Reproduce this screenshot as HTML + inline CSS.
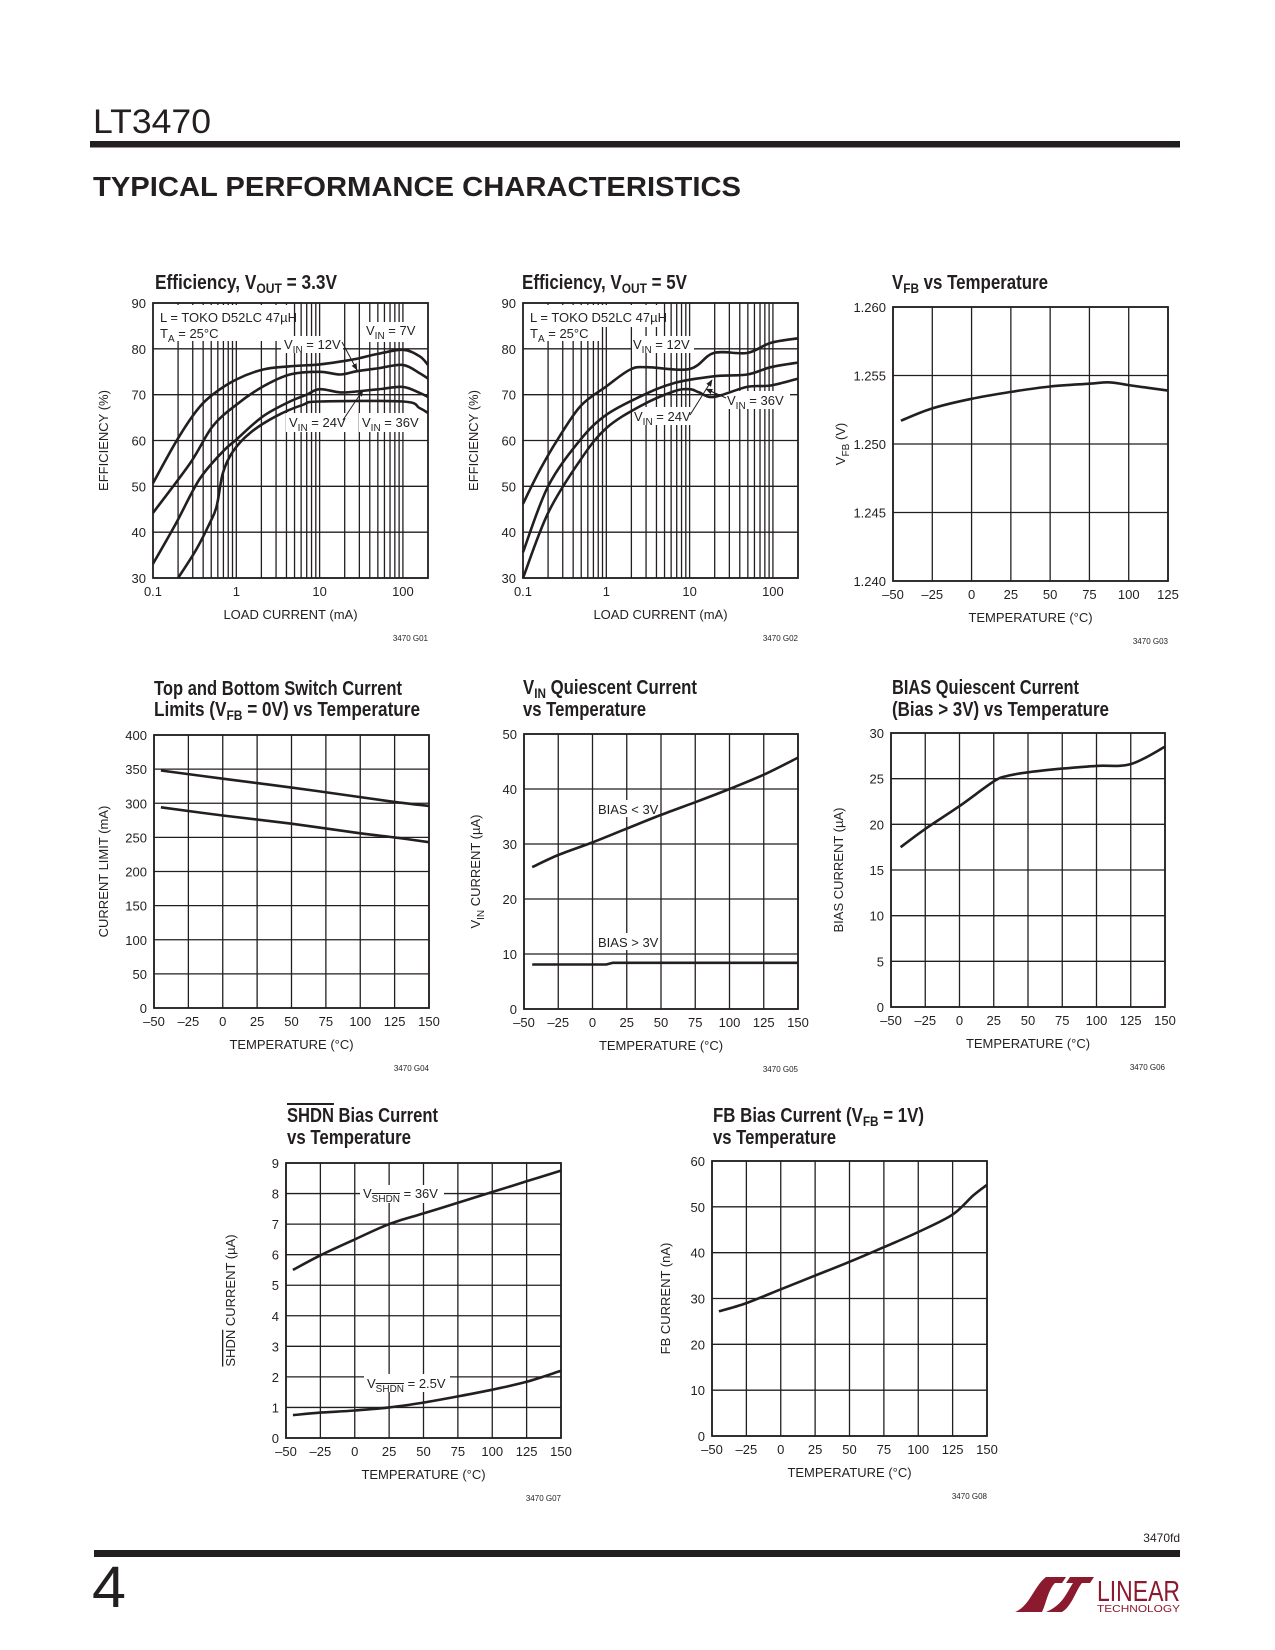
<!DOCTYPE html>
<html><head><meta charset="utf-8"><title>LT3470 Typical Performance Characteristics</title>
<style>
html,body{margin:0;padding:0;background:#fff;}
svg{display:block;}
text{font-family:"Liberation Sans",sans-serif;fill:#231f20;}
.t{font-family:"Liberation Sans Narrow","Liberation Sans",sans-serif;font-weight:bold;font-size:20px;}
.tk{font-size:13px;}
.ax{font-size:13px;}
.lb{font-size:13px;}
.code{font-size:8px;}
</style></head>
<body>
<svg id="page" width="1275" height="1650" viewBox="0 0 1275 1650" xmlns="http://www.w3.org/2000/svg">
<defs>
<marker id="arr" viewBox="0 0 10 10" refX="9" refY="5" markerWidth="7" markerHeight="7" orient="auto"><path d="M0,1 L10,5 L0,9 z" fill="#231f20"/></marker>
</defs>
<text x="93" y="133" font-size="34" textLength="118" lengthAdjust="spacingAndGlyphs">LT3470</text>
<rect x="90" y="141" width="1090" height="6.5" fill="#231f20"/>
<text x="93" y="196" font-size="28" font-weight="bold" textLength="648" lengthAdjust="spacingAndGlyphs" style="font-family:'Liberation Sans',sans-serif;font-weight:900">TYPICAL PERFORMANCE CHARACTERISTICS</text>
<g id="charts"></g>
<text x="1180" y="1542" font-size="12" text-anchor="end" style="font-family:'Liberation Sans Narrow','Liberation Sans',sans-serif">3470fd</text>
<rect x="94" y="1550" width="1086" height="7" fill="#231f20"/>
<text x="92" y="1607" font-size="58" textLength="34" lengthAdjust="spacingAndGlyphs">4</text>
<g fill="#8b1a2e">
<path d="M1015,1612 C1030,1606 1034,1586 1046,1577 L1066,1577 L1062,1583 L1055,1583 C1048,1590 1046,1604 1042,1612 Z"/>
<path d="M1046,1612 L1062,1612 C1072,1606 1076,1590 1082,1583 L1090,1583 L1094,1577 L1070,1577 L1066,1583 L1073,1583 C1067,1592 1063,1605 1046,1612 Z"/>
<text x="1097" y="1601" font-size="29" fill="#8b1a2e" textLength="83" lengthAdjust="spacingAndGlyphs" style="font-family:'Liberation Sans Narrow','Liberation Sans',sans-serif;fill:#8b1a2e">LINEAR</text>
<text x="1097" y="1612" font-size="10" fill="#8b1a2e" textLength="83" lengthAdjust="spacingAndGlyphs" style="fill:#8b1a2e">TECHNOLOGY</text>
</g>
</svg>
<script>
// ---------- data ----------
const effTicksX = [0.1, 1, 10, 100];
const effTickLabelsX = ["0.1", "1", "10", "100"];
const effTicksY = [30, 40, 50, 60, 70, 80, 90];

const eff33Load7 = [0.1,0.19,0.33,0.52,1,2.1,4.4,10,19,27.5,50,100,158,200];
const eff33Vin7  = [50.7,59.8,66.4,70,73.3,75.5,76.2,76.6,77.3,77.8,78.9,79.8,78.4,76.5];
const eff33Load12 = [0.1,0.28,0.52,1,2.1,4.4,10,17.6,27.5,52,100,158,200];
const eff33Vin12  = [44.2,55.1,63.1,67.8,71.8,74.4,75,74.4,75.1,75.8,76.5,74.7,73.5];
const eff33Load24 = [0.1,0.19,0.36,0.69,1,2.1,4.4,7,10,17.6,27.5,52,100,158,200];
const eff33Vin24  = [33.1,42,51.5,57.6,60.2,65.3,68.5,70,71.2,70.5,70.7,71.2,71.7,70.4,69.5];
const eff33Load36 = [0.2,0.33,0.48,0.58,0.69,0.91,1.45,3,6.3,10,100,158,200];
const eff33Vin36  = [30,36.2,42,45.6,52.9,57.6,61.6,65.3,67.8,68.5,68.5,67.1,66];

const eff5Load12 = [0.1,0.16,0.26,0.49,1,1.94,3.1,10,19.5,49,94,200];
const eff5Vin12  = [46.2,53.6,60.2,67.5,71.8,75.5,76,75.6,79.1,79.1,81.3,82.3];
const eff5Load24 = [0.1,0.2,0.49,1,2.56,6.4,19.5,49,94,200];
const eff5Vin24  = [35.6,50,60.2,65.6,69.6,72.5,74,74.4,76,77];
const eff5Load36 = [0.1,0.2,0.49,1,2.56,6.4,10,13,19.5,49,94,200];
const eff5Vin36  = [30,44.2,55.8,62.7,67.5,70.7,71.2,70.5,69.5,71.7,72,73.5];

const vfbTemp = [-45,-25,0,25,50,75,88,100,125];
const vfbVolts = [1.2517,1.2526,1.2533,1.2538,1.2542,1.2544,1.2545,1.2543,1.2539];
const vfbTicksY = [1.240,1.245,1.250,1.255,1.260];
const vfbTickLabelsY = ["1.240","1.245","1.250","1.255","1.260"];

const tempTicks = [-50,-25,0,25,50,75,100,125,150];
const tempTicks125 = [-50,-25,0,25,50,75,100,125];

const limTemp = [-45,0,50,100,125,150];
const limTop = [348,336,323,309,302,296];
const limBottom = [294,282,270,256,250,243];
const limTicksY = [0,50,100,150,200,250,300,350,400];

const vinqTemp = [-44,-25,0,25,50,75,100,125,150];
const vinqBiasLow = [25.8,28,30.3,32.8,35.3,37.6,40,42.6,45.7];
const vinqTempHigh = [-44,10,15,150];
const vinqBiasHigh = [8.1,8.1,8.4,8.4];
const vinqTicksY = [0,10,20,30,40,50];

const biasTemp = [-43,-25,0,25,35,50,75,100,125,150];
const biasCurrent = [17.5,19.5,22,24.7,25.3,25.7,26.1,26.4,26.6,28.5];
const biasTicksY = [0,5,10,15,20,25,30];

const shdnTemp = [-45,-25,0,25,50,75,100,125,150];
const shdn36 = [5.5,5.98,6.5,7.0,7.35,7.7,8.05,8.4,8.75];
const shdn25 = [0.75,0.83,0.9,1.0,1.16,1.36,1.58,1.84,2.2];
const shdnTicksY = [0,1,2,3,4,5,6,7,8,9];

const fbTemp = [-45,-25,0,25,50,75,100,125,140,150];
const fbCurrent = [27.2,29,32,35,38,41.2,44.5,48.3,52.5,54.8];
const fbTicksY = [0,10,20,30,40,50,60];

// ---------- helpers ----------
const NS = 'http://www.w3.org/2000/svg';
const root = document.getElementById('charts');
function mk(tag, attrs, parent) {
  const e = document.createElementNS(NS, tag);
  for (const k in attrs) e.setAttribute(k, attrs[k]);
  (parent || root).appendChild(e);
  return e;
}
function lin(d0, d1, r0, r1) { return v => r0 + (v - d0) * (r1 - r0) / (d1 - d0); }
function logs(d0, d1, r0, r1) { const a = Math.log10(d0), b = Math.log10(d1); return v => r0 + (Math.log10(v) - a) * (r1 - r0) / (b - a); }
function smooth(pts) {
  let d = 'M' + pts[0][0].toFixed(1) + ',' + pts[0][1].toFixed(1);
  for (let i = 0; i < pts.length - 1; i++) {
    const p0 = pts[i - 1] || pts[i], p1 = pts[i], p2 = pts[i + 1], p3 = pts[i + 2] || p2;
    const c1 = [p1[0] + (p2[0] - p0[0]) / 6, p1[1] + (p2[1] - p0[1]) / 6];
    const c2 = [p2[0] - (p3[0] - p1[0]) / 6, p2[1] - (p3[1] - p1[1]) / 6];
    d += ' C' + c1[0].toFixed(1) + ',' + c1[1].toFixed(1) + ' ' + c2[0].toFixed(1) + ',' + c2[1].toFixed(1) + ' ' + p2[0].toFixed(1) + ',' + p2[1].toFixed(1);
  }
  return d;
}
function straight(pts) {
  return pts.map((p, i) => (i ? 'L' : 'M') + p[0].toFixed(1) + ',' + p[1].toFixed(1)).join(' ');
}
function fmtT(v) { return v < 0 ? '\u2013' + (-v) : String(v); }

function chart(c) {
  const g = mk('g', {});
  
  
  const xs = c.log ? logs(c.xd[0], c.xd[1], c.x0, c.x1) : lin(c.xd[0], c.xd[1], c.x0, c.x1);
  const ys = lin(c.yd[0], c.yd[1], c.y1, c.y0);
  c.xGrid.forEach(v => {
    const l = mk('line', {x1: xs(v), x2: xs(v), y1: c.y0, y2: c.y1, stroke: '#231f20', 'stroke-width': 1.3}, g);
    
    
  });
  c.yTicks.forEach((v, i) => {
    const l = mk('line', {x1: c.x0, x2: c.x1, y1: ys(v), y2: ys(v), stroke: '#231f20', 'stroke-width': 1.3}, g);
    
    
    const t = mk('text', {x: c.x0 - 7, y: ys(v) + 5, 'text-anchor': 'end', class: 'tk'}, g);
    t.textContent = c.yLabels ? c.yLabels[i] : String(v);
    
    
  });
  (c.boxes || []).forEach(b => {
    const r = mk('rect', {x: b[0], y: b[1], width: b[2], height: b[3], fill: '#fff'}, g);
    
    
  });
  const fr = mk('rect', {x: c.x0, y: c.y0, width: c.x1 - c.x0, height: c.y1 - c.y0, fill: 'none', stroke: '#231f20', 'stroke-width': 1.8}, g);
  
  
  c.xTicks.forEach((v, i) => {
    const t = mk('text', {x: xs(v), y: c.y1 + 18, 'text-anchor': 'middle', class: 'tk'}, g);
    t.textContent = c.xLabels ? c.xLabels[i] : fmtT(v);
    
    
  });
  const xt = mk('text', {x: (c.x0 + c.x1) / 2, y: c.y1 + 41, 'text-anchor': 'middle', class: 'ax'}, g);
  xt.textContent = c.xTitle;
  
  
  const yc = (c.y0 + c.y1) / 2, yx = c.x0 - c.yOff;
  const yt = mk('text', {x: yx, y: yc, 'text-anchor': 'middle', class: 'ax', transform: 'rotate(-90 ' + yx + ' ' + yc + ')'}, g);
  yt.innerHTML = c.yTitle;
  
  
  const cd = mk('text', {x: c.x1, y: c.y1 + 63, 'text-anchor': 'end', class: 'code'}, g);
  cd.textContent = c.code;
  
  
  c.titles.forEach(tt => {
    const t = mk('text', {x: tt[0], y: tt[1], class: 't', textLength: tt[3], lengthAdjust: 'spacingAndGlyphs'}, g);
    t.innerHTML = tt[2];
    
    
  });
  c.series.forEach(s => {
    const pts = s.x.map((v, i) => [xs(v), ys(s.y[i])]);
    const p = mk('path', {d: s.linear ? straight(pts) : smooth(pts), fill: 'none', stroke: '#231f20', 'stroke-width': 2.6, 'stroke-linejoin': 'round'}, g);
    
    
  });
  (c.labels || []).forEach(lb => {
    const t = mk('text', {x: lb[0], y: lb[1], class: 'lb'}, g);
    t.innerHTML = lb[2];
    
    
  });
  (c.arrows || []).forEach(a => {
    const l = mk('line', {x1: a[0], y1: a[1], x2: a[2], y2: a[3], stroke: '#231f20', 'stroke-width': 1, 'marker-end': 'url(#arr)'}, g);
    
    
  });
}
function logGrid(lo, hi) {
  const out = [];
  for (let k = -1; k <= 2; k++) for (let m = 1; m <= 9; m++) { const v = m * Math.pow(10, k); if (v > lo * 1.001 && v < hi * 0.999) out.push(v); }
  return out;
}
const SUB = (s) => '<tspan font-size="10" dy="4">' + s + '</tspan><tspan dy="-4">';
const SUBT = (s) => '<tspan font-size="14" dy="4">' + s + '</tspan><tspan dy="-4">';

chart({name: 'efficiency-3v3-chart', log: true, xd: [0.1, 200], yd: [30, 90], x0: 153, x1: 428, y0: 303, y1: 578,
  xGrid: logGrid(0.1, 200), yTicks: effTicksY, xTicks: effTicksX, xLabels: effTickLabelsX,
  xTitle: 'LOAD CURRENT (mA)', yTitle: 'EFFICIENCY (%)', yOff: 45, code: '3470 G01',
  titles: [[155, 289, 'Efficiency, V' + SUBT('OUT') + ' = 3.3V</tspan>', 182]],
  boxes: [[155, 305, 135, 36], [281, 336, 62, 17], [362, 322, 62, 20], [286, 413, 60, 19], [359, 413, 66, 19]],
  series: [{name: 'series-vin-7v', x: eff33Load7, y: eff33Vin7}, {name: 'series-vin-12v', x: eff33Load12, y: eff33Vin12},
           {name: 'series-vin-24v', x: eff33Load24, y: eff33Vin24}, {name: 'series-vin-36v', x: eff33Load36, y: eff33Vin36}],
  labels: [[160, 322, 'L = TOKO D52LC 47\u00b5H'], [160, 338, 'T' + SUB('A') + ' = 25\u00b0C</tspan>'],
           [284, 349, 'V' + SUB('IN') + ' = 12V</tspan>'], [366, 335, 'V' + SUB('IN') + ' = 7V</tspan>'],
           [289, 427, 'V' + SUB('IN') + ' = 24V</tspan>'], [362, 427, 'V' + SUB('IN') + ' = 36V</tspan>']],
  arrows: [[342, 342, 357, 370], [343, 420, 363, 390]]
});
chart({name: 'efficiency-5v-chart', log: true, xd: [0.1, 200], yd: [30, 90], x0: 523, x1: 798, y0: 303, y1: 578,
  xGrid: logGrid(0.1, 200), yTicks: effTicksY, xTicks: effTicksX, xLabels: effTickLabelsX,
  xTitle: 'LOAD CURRENT (mA)', yTitle: 'EFFICIENCY (%)', yOff: 45, code: '3470 G02',
  titles: [[522, 289, 'Efficiency, V' + SUBT('OUT') + ' = 5V</tspan>', 165]],
  boxes: [[525, 305, 135, 22], [525, 327, 75, 14], [632, 336, 62, 17], [633, 407, 60, 18], [724, 391, 66, 18]],
  series: [{name: 'series-vin-12v', x: eff5Load12, y: eff5Vin12}, {name: 'series-vin-24v', x: eff5Load24, y: eff5Vin24},
           {name: 'series-vin-36v', x: eff5Load36, y: eff5Vin36}],
  labels: [[530, 322, 'L = TOKO D52LC 47\u00b5H'], [530, 338, 'T' + SUB('A') + ' = 25\u00b0C</tspan>'],
           [633, 349, 'V' + SUB('IN') + ' = 12V</tspan>'], [634, 421, 'V' + SUB('IN') + ' = 24V</tspan>'],
           [727, 405, 'V' + SUB('IN') + ' = 36V</tspan>']],
  arrows: [[690, 415, 712, 380], [726, 398, 706, 389]]
});
chart({name: 'vfb-vs-temperature-chart', xd: [-50, 125], yd: [1.240, 1.260], x0: 893, x1: 1168, y0: 307, y1: 581,
  xGrid: tempTicks125, yTicks: vfbTicksY, yLabels: vfbTickLabelsY, xTicks: tempTicks125,
  xTitle: 'TEMPERATURE (\u00b0C)', yTitle: 'V' + SUB('FB') + ' (V)</tspan>', yOff: 48, code: '3470 G03',
  titles: [[892, 289, 'V' + SUBT('FB') + ' vs Temperature</tspan>', 156]],
  series: [{name: 'series-vfb', x: vfbTemp, y: vfbVolts}]
});
chart({name: 'switch-current-limit-chart', xd: [-50, 150], yd: [0, 400], x0: 154, x1: 429, y0: 735, y1: 1008,
  xGrid: tempTicks, yTicks: limTicksY, xTicks: tempTicks,
  xTitle: 'TEMPERATURE (\u00b0C)', yTitle: 'CURRENT LIMIT (mA)', yOff: 46, code: '3470 G04',
  titles: [[154, 695, 'Top and Bottom Switch Current', 248], [154, 716, 'Limits (V' + SUBT('FB') + ' = 0V) vs Temperature</tspan>', 266]],
  series: [{name: 'series-top-switch', x: limTemp, y: limTop}, {name: 'series-bottom-switch', x: limTemp, y: limBottom}]
});
chart({name: 'vin-quiescent-current-chart', xd: [-50, 150], yd: [0, 50], x0: 524, x1: 798, y0: 734, y1: 1009,
  xGrid: tempTicks, yTicks: vinqTicksY, xTicks: tempTicks,
  xTitle: 'TEMPERATURE (\u00b0C)', yTitle: 'V' + SUB('IN') + ' CURRENT (\u00b5A)</tspan>', yOff: 44, code: '3470 G05',
  titles: [[523, 694, 'V' + SUBT('IN') + ' Quiescent Current</tspan>', 174], [523, 716, 'vs Temperature', 123]],
  boxes: [[595, 800, 64, 17], [595, 933, 64, 17]],
  series: [{name: 'series-bias-below-3v', x: vinqTemp, y: vinqBiasLow}, {name: 'series-bias-above-3v', x: vinqTempHigh, y: vinqBiasHigh, linear: true}],
  labels: [[598, 814, 'BIAS &lt; 3V'], [598, 947, 'BIAS &gt; 3V']]
});
chart({name: 'bias-quiescent-current-chart', xd: [-50, 150], yd: [0, 30], x0: 891, x1: 1165, y0: 733, y1: 1007,
  xGrid: tempTicks, yTicks: biasTicksY, xTicks: tempTicks,
  xTitle: 'TEMPERATURE (\u00b0C)', yTitle: 'BIAS CURRENT (\u00b5A)', yOff: 48, code: '3470 G06',
  titles: [[892, 694, 'BIAS Quiescent Current', 187], [892, 716, '(Bias &gt; 3V) vs Temperature', 217]],
  series: [{name: 'series-bias-current', x: biasTemp, y: biasCurrent}]
});
chart({name: 'shdn-bias-current-chart', xd: [-50, 150], yd: [0, 9], x0: 286, x1: 561, y0: 1163, y1: 1438,
  xGrid: tempTicks, yTicks: shdnTicksY, xTicks: tempTicks,
  xTitle: 'TEMPERATURE (\u00b0C)', yTitle: '<tspan text-decoration="overline">SHDN</tspan> CURRENT (\u00b5A)', yOff: 51, code: '3470 G07',
  titles: [[287, 1122, '<tspan text-decoration="overline">SHDN</tspan> Bias Current', 151], [287, 1144, 'vs Temperature', 124]],
  boxes: [[360, 1185, 84, 18], [364, 1374, 86, 18]],
  series: [{name: 'series-vshdn-36v', x: shdnTemp, y: shdn36}, {name: 'series-vshdn-2v5', x: shdnTemp, y: shdn25}],
  labels: [[363, 1198, 'V' + SUB('<tspan text-decoration="overline">SHDN</tspan>') + ' = 36V</tspan>'],
           [367, 1388, 'V' + SUB('<tspan text-decoration="overline">SHDN</tspan>') + ' = 2.5V</tspan>']]
});
chart({name: 'fb-bias-current-chart', xd: [-50, 150], yd: [0, 60], x0: 712, x1: 987, y0: 1161, y1: 1436,
  xGrid: tempTicks, yTicks: fbTicksY, xTicks: tempTicks,
  xTitle: 'TEMPERATURE (\u00b0C)', yTitle: 'FB CURRENT (nA)', yOff: 42, code: '3470 G08',
  titles: [[713, 1122, 'FB Bias Current (V' + SUBT('FB') + ' = 1V)</tspan>', 211], [713, 1144, 'vs Temperature', 123]],
  series: [{name: 'series-fb-current', x: fbTemp, y: fbCurrent}]
});
</script>
</body></html>
